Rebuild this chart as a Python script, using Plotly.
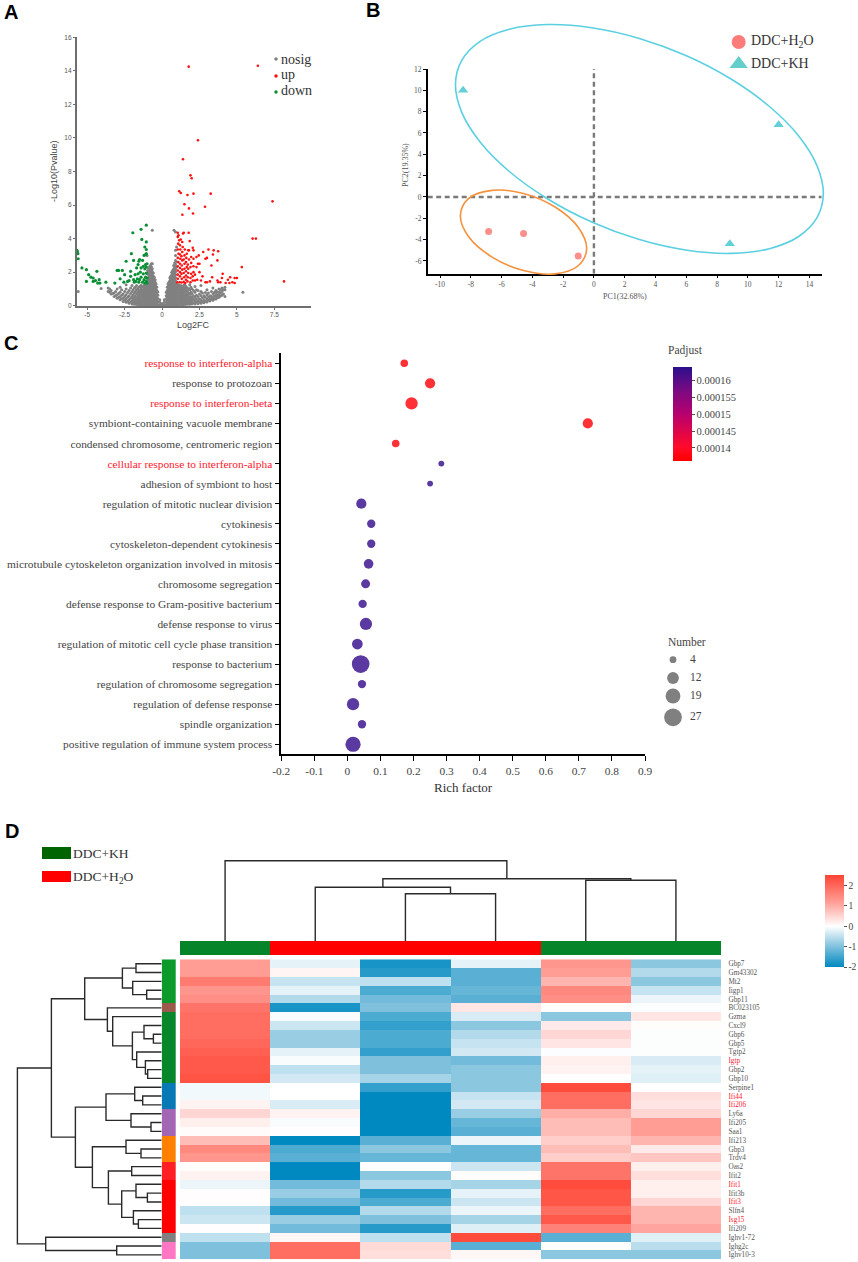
import plotly.graph_objects as go

W, H = 858, 1262
SERIF = 'Liberation Serif'
SANS = 'Liberation Sans'

# ---- panel A: volcano plot ----
NOSIG_COLUMNS = [
    (0.05, [.05, .12]), (0.15, [.05, .2, .35]), (0.28, [.05, .2, .4, .6, .8]),
    (0.35, [.12, .32, .5, .7, .9, 1.1]),
    (0.4, [.05, .23, .41, .59, .77, .95, 1.13, 1.3]),
    (0.46, [.14, .32, .5, .68, .86, 1.04, 1.22, 1.4]),
    (0.52, [.05, .23, .41, .59, .77, .95, 1.13, 1.31, 1.49, 1.67]),
    (0.58, [.14, .32, .5, .68, .86, 1.04, 1.22, 1.4, 1.58, 1.76]),
    (0.65, [.05, .23, .41, .59, .77, .95, 1.13, 1.31, 1.49, 1.67, 1.85, 2.0]),
    (0.71, [.14, .32, .5, .68, .86, 1.04, 1.22, 1.4, 1.58, 1.76, 1.94, 2.1]),
    (0.78, [.04, .22, .4, .58, .76, .94, 1.12, 1.3, 1.48, 1.66, 1.84, 2.02, 2.2, 2.4]),
    (0.84, [.13, .31, .49, .67, .85, 1.03, 1.21, 1.39, 1.57, 1.75, 1.93, 2.11, 2.3, 2.55]),
    (0.9, [.04, .22, .4, .58, .76, .94, 1.12, 1.3, 1.48, 1.66, 1.84, 2.02, 2.2, 2.45, 2.7, 3.0, 3.3]),
    (0.97, [.1, .3, .5, .7, .9, 1.1, 1.28, 2.3, 2.6, 3.5]),
    (1.0, [.02, .16, .4, .6, .8, 1.0, 1.2]),
    (1.1, [.05, .22, .4, .58, .76, .94, 1.1, 1.25]),
    (1.17, [.13, .3, .48, .66, .84, 1.02, 1.18]),
    (1.25, [.05, .2, .38, .55, .72, .9, 1.05, 1.2]),
    (1.32, [.12, .3, .46, .64, .8, .98, 1.12]),
    (1.4, [.06, .22, .4, .58, .75, .95, 1.15]),
    (1.47, [.14, .3, .48, .66, .85, 1.05, 1.25]),
    (1.55, [.07, .25, .42, .6, .8, 1.0, 1.2]),
    (1.62, [.15, .33, .52, .7, .92, 1.12]),
    (1.7, [.08, .25, .45, .62, .85, 1.05]),
    (1.78, [.16, .34, .54, .75, 1.0]),
    (1.85, [.08, .25, .42, .68, .95, 1.25]),
    (1.93, [.17, .35, .55, .8, 1.1]),
    (2.0, [.1, .28, .48, .72, 1.0]),
    (2.1, [.18, .38, .6, .9]),
    (2.2, [.1, .3, .5, .8, 1.15]),
    (2.3, [.2, .4, .62, .95]),
    (2.4, [.12, .3, .55, .9]),
    (2.5, [.22, .42, .7]),
    (2.6, [.15, .32, .6, .85, 1.2]),
    (2.7, [.25, .47, .75]),
    (2.8, [.18, .35, .6]),
    (2.9, [.27, .5, .78]),
    (3.0, [.22, .4, .65, .95]),
    (3.1, [.32, .52, .75]),
    (3.2, [.28, .42, .6]),
    (3.3, [.38, .55, .85]),
    (3.4, [.33, .48, .7, 1.05]),
    (3.5, [.42, .6, .8]),
    (3.6, [.4, .55, .72, .9]),
    (3.7, [.47, .63, .82]),
    (3.8, [.5, .65, .8, 1.0]),
    (3.9, [.58, .75, .95]),
    (4.0, [.62, .85, 1.05]),
    (4.1, [.7, .95]),
    (4.2, [.55, .95, 1.1]),
    (5.4, [.8]), (0.8, [4.5]), (0.9, [4.4]),
    (-0.05, [.05, .12]), (-0.15, [.05, .2, .35]), (-0.28, [.05, .22, .42, .62, .82]),
    (-0.35, [.12, .32, .5, .7, .9, 1.1]),
    (-0.4, [.05, .23, .41, .59, .77, .95, 1.13, 1.3]),
    (-0.46, [.14, .32, .5, .68, .86, 1.04, 1.22, 1.4, 1.55]),
    (-0.52, [.05, .23, .41, .59, .77, .95, 1.13, 1.31, 1.49, 1.7]),
    (-0.58, [.14, .32, .5, .68, .86, 1.04, 1.22, 1.4, 1.58, 1.76, 1.95]),
    (-0.65, [.04, .22, .4, .58, .76, .94, 1.12, 1.3, 1.48, 1.66, 1.84, 2.02, 2.2, 2.5, 4.5]),
    (-0.71, [.13, .31, .49, .67, .85, 1.03, 1.21, 1.39, 1.57, 1.75, 1.93, 2.11, 2.3, 2.5]),
    (-0.78, [.04, .22, .4, .58, .76, .94, 1.12, 1.3, 1.48, 1.66, 1.84, 2.02, 2.2, 2.4]),
    (-0.84, [.13, .31, .49, .67, .85, 1.03, 1.21, 1.39, 1.57, 1.75, 1.93, 2.11, 2.3]),
    (-0.9, [.04, .22, .4, .58, .76, .94, 1.12, 1.3, 1.48, 1.66, 1.84, 2.02, 2.25]),
    (-0.96, [.12, .3, .48, .66, .84, 1.02, 1.2, 1.4, 1.6, 2.1]),
    (-1.0, [.03, .2, .38, .56, .74, .92, 1.1, 1.28, 1.9, 3.0]),
    (-1.06, [.13, .31, .49, .67, .85, 1.03, 1.2]),
    (-1.12, [.04, .22, .4, .58, .76, .94, 1.12, 1.28]),
    (-1.18, [.13, .31, .49, .67, .85, 1.03, 1.22]),
    (-1.25, [.04, .22, .4, .58, .76, .94, 1.15]),
    (-1.32, [.14, .32, .5, .7, .9, 1.1]),
    (-1.4, [.05, .24, .42, .6, .8, 1.0, 1.22]),
    (-1.47, [.15, .35, .55, .72, .92, 1.15]),
    (-1.55, [.05, .25, .45, .65, .85, 1.1]),
    (-1.62, [.15, .35, .55, .78, 1.0]),
    (-1.7, [.07, .25, .45, .7, .95, 1.2]),
    (-1.78, [.17, .37, .58, .85, 1.1]),
    (-1.85, [.08, .28, .5, .75, 1.05]),
    (-1.93, [.2, .4, .65, .95]),
    (-2.0, [.1, .3, .55, .85, 1.2]),
    (-2.1, [.22, .45, .72, 1.05]),
    (-2.2, [.15, .35, .6, .9]),
    (-2.3, [.27, .5, .78]),
    (-2.4, [.2, .4, .65, 1.0, 1.25]),
    (-2.5, [.32, .55, .85]),
    (-2.6, [.25, .45, .7]),
    (-2.7, [.42, .62, .95]),
    (-2.8, [.35, .55, .8, 1.1]),
    (-2.9, [.5, .72]),
    (-3.0, [.45, .65, 1.0]),
    (-3.1, [.6, .85]),
    (-3.2, [.55, .75]),
    (-3.3, [.72]),
    (-3.4, [.7, .9]),
    (-3.5, [.8, 1.0]),
    (-3.6, [.85, 1.05]),
    (-4.07, [1.03]), (-5.6, [.85]),
]
UP_X = [1.02, 1.05, 1.05, 1.05, 1.05, 1.08, 1.05, 1.1, 1.05, 1.08, 1.05, 1.05, 1.1, 1.15, 1.18, 1.2, 1.2, 1.2, 1.2, 1.22,
        1.2, 1.22, 1.2, 1.25, 1.3, 1.32, 1.3, 1.35, 1.32, 1.35, 1.3, 1.35, 1.38, 1.35, 1.4, 1.45, 1.45, 1.48, 1.45, 1.5,
        1.5, 1.45, 1.5, 1.52, 1.55, 1.6, 1.6, 1.6, 1.65, 1.6, 1.62, 1.65, 1.7, 1.72, 1.75, 1.75, 1.72, 1.8, 1.75, 1.8,
        1.78, 1.85, 1.9, 1.9, 1.95, 1.9, 1.95, 1.95, 2.05, 2.05, 2.1, 2.1, 2.1, 2.1, 2.05, 2.2, 2.2, 2.3, 2.3, 2.35,
        2.4, 2.5, 2.5, 2.45, 2.6, 2.7, 2.75, 2.9, 2.9, 3.0, 3.1, 3.2, 3.3, 3.35, 3.4, 3.45, 3.0, 3.75, 3.7, 3.7,
        3.75, 4.0, 4.05, 4.25, 4.4, 4.5, 4.55, 4.7, 4.85, 4.85, 5.0, 3.9,
        1.78, 6.4, 2.4, 1.4, 1.9, 1.98, 1.15, 1.25, 1.7, 2.1, 3.25, 1.5, 7.38, 2.87, 1.8, 1.36, 2.07, 6.05, 6.27, 8.15, 5.33]
UP_Y = [1.4, 1.6, 1.85, 2.1, 2.35, 2.6, 2.85, 3.1, 3.35, 3.7, 4.1, 4.35, 4.2, 3.9, 1.4, 1.75, 2.0, 2.25, 2.5, 2.8,
        3.05, 3.35, 3.6, 3.95, 1.38, 1.6, 1.9, 2.15, 2.4, 2.7, 2.95, 3.2, 3.5, 3.8, 4.3, 4.35, 1.42, 1.7, 1.95, 2.2,
        2.5, 2.75, 3.0, 3.35, 1.35, 1.55, 1.8, 2.05, 2.3, 2.6, 2.85, 3.1, 1.45, 1.7, 1.95, 2.2, 2.45, 2.75, 3.3, 3.3,
        4.35, 3.85, 1.4, 1.65, 1.9, 2.3, 2.55, 2.9, 1.5, 1.75, 2.0, 2.35, 2.8, 3.3, 3.45, 1.5, 1.85, 2.3, 2.9, 1.55,
        2.5, 2.0, 2.5, 3.0, 1.5, 1.75, 3.2, 1.4, 2.8, 1.4, 3.35, 1.45, 2.4, 1.7, 3.05, 3.3, 2.85, 3.25, 2.7, 1.5,
        1.4, 1.65, 1.9, 1.35, 1.55, 1.35, 1.7, 1.4, 1.65, 1.35, 1.65, 1.4,
        14.25, 14.3, 9.86, 8.73, 7.77, 7.6, 6.82, 6.72, 6.6, 6.68, 6.68, 6.05, 6.22, 5.9, 5.8, 5.42, 5.5, 4.0, 4.0, 1.45, 2.3]
DOWN_X = [-5.68, -5.65, -5.62, -5.6, -5.35, -5.05, -5.05, -4.9, -4.75, -4.6, -4.6, -4.45, -4.35, -4.3, -4.2, -4.15,
          -3.75, -3.15, -3.0, -2.9, -2.8, -2.65, -2.55, -2.5, -2.4, -2.3, -2.2, -2.1, -2.1, -2.05, -1.95, -1.9, -1.9,
          -1.85, -1.8, -1.75, -1.7, -1.65, -1.6, -1.6, -1.55, -1.55, -1.5, -1.5, -1.45, -1.4, -1.4, -1.4, -1.35, -1.3,
          -1.3, -1.25, -1.25, -1.2, -1.2, -1.15, -1.15, -1.15, -1.1, -1.1, -1.1, -1.05, -1.05, -1.05, -1.05, -1.05,
          -1.05, -1.05, -1.0, -1.0, -1.0]
DOWN_Y = [3.3, 3.2, 3.1, 2.8, 2.25, 2.15, 1.45, 1.85, 1.7, 1.45, 1.65, 1.5, 2.05, 1.35, 1.55, 1.35,
          1.4, 1.35, 2.1, 2.1, 1.6, 2.1, 1.4, 1.85, 2.65, 1.45, 1.5, 1.75, 2.05, 3.1, 4.35, 1.55, 2.7,
          1.4, 1.85, 1.45, 2.25, 1.6, 1.9, 2.45, 1.4, 2.65, 2.75, 1.55, 2.0, 1.7, 2.25, 4.55, 3.95, 1.4,
          2.7, 1.9, 2.35, 1.55, 3.0, 1.35, 2.2, 3.5, 1.7, 2.45, 3.05, 1.45, 1.95, 3.1, 2.3, 3.8,
          3.35, 4.8, 1.35, 1.65, 2.5]
VOLCANO_XTICKS = [-5, -2.5, 0, 2.5, 5, 7.5, 10]
VOLCANO_YTICKS = [0, 2, 4, 6, 8, 10, 12, 14, 16]

# ---- panel B: PCA ----
H2O_PC1 = [-6.84, -4.57, -1.02]
H2O_PC2 = [-3.25, -3.44, -5.53]
KH_PC1 = [-8.5, 12.0, 8.83]
KH_PC2 = [10.0, 6.78, -4.38]
KH_RING_X = [14.89, 14.48, 13.29, 11.39, 8.92, 6.04, 2.94, -0.15, -3.03, -5.5, -7.4, -8.59, -9.0, -8.59, -7.4, -5.5,
             -3.03, -0.15, 2.94, 6.04, 8.92, 11.39, 13.29, 14.48, 14.89]
KH_RING_Y = [0.29, -1.97, -3.73, -4.87, -5.31, -5.02, -4.02, -2.37, -0.19, 2.36, 5.13, 7.9, 10.53, 12.78, 14.56, 15.69,
             16.13, 15.83, 14.83, 13.18, 11.0, 8.45, 5.69, 2.9, 0.29]
H2O_RING_X = [-0.48, -1.03, -2.53, -4.58, -6.62, -8.14, -8.68, -8.14, -6.62, -4.58, -2.53, -1.03, -0.48]
H2O_RING_Y = [-4.87, -6.47, -7.23, -6.92, -5.66, -3.76, -1.75, -0.16, 0.59, 0.3, -0.97, -2.87, -4.87]

# ---- panel C: GO enrichment ----
TERMS = ['response to interferon-alpha', 'response to protozoan', 'response to interferon-beta',
         'symbiont-containing vacuole membrane', 'condensed chromosome, centromeric region',
         'cellular response to interferon-alpha', 'adhesion of symbiont to host',
         'regulation of mitotic nuclear division', 'cytokinesis', 'cytoskeleton-dependent cytokinesis',
         'microtubule cytoskeleton organization involved in mitosis', 'chromosome segregation',
         'defense response to Gram-positive bacterium', 'defense response to virus',
         'regulation of mitotic cell cycle phase transition', 'response to bacterium',
         'regulation of chromosome segregation', 'regulation of defense response', 'spindle organization',
         'positive regulation of immune system process']
RED_TERMS = ['response to interferon-alpha', 'response to interferon-beta', 'cellular response to interferon-alpha']
RICH = [.172, .25, .194, .727, .146, .284, .25, .042, .072, .072, .064, .055, .046, .056, .03, .04, .044, .017, .044, .017]
COUNTS = [5, 9, 13, 9, 5, 3, 3, 9, 6, 6, 8, 7, 6, 13, 10, 27, 6, 13, 6, 20]
PADJ = [.000137, .000137, .000137, .000137, .000137, .000163, .000163, .000163, .000163, .000163,
        .000163, .000163, .000163, .000163, .000163, .000163, .000163, .000163, .000163, .000163]
RICH_TICKS = [-.2, -.1, 0, .1, .2, .3, .4, .5, .6, .7, .8, .9]
PADJ_TICKS = [.00014, .000145, .00015, .000155, .00016]
PADJ_LABELS = ['0.00014', '0.000145', '0.00015', '0.000155', '0.00016']
SIZE_LEVELS = [4, 12, 19, 27]

# ---- panel D: heatmap ----
GENES = ['Gbp7', 'Gm43302', 'Mt2', 'Iigp1', 'Gbp11', 'BC023105', 'Gzma', 'Cxcl9', 'Gbp6', 'Gbp5', 'Tgtp2', 'Igtp',
         'Gbp2', 'Gbp10', 'Serpine1', 'Ifi44', 'Ifi206', 'Ly6a', 'Ifi205', 'Saa1', 'Ifi213', 'Gbp3', 'Trdv4', 'Oas2',
         'Ifit2', 'Ifit1', 'Ifit3b', 'Ifit3', 'Slfn4', 'Isg15', 'Ifi209', 'Ighv1-72', 'Ighg2c', 'Ighv10-3']
RED_GENES = ['Igtp', 'Ifi44', 'Ifi206', 'Ifit1', 'Ifit3', 'Isg15']
COL0 = [1.2, 1.2, 1.7, 1.3, 1.4, 1.8, 1.9, 1.9, 1.9, 2.0, 2.1, 2.2, 2.2, 2.3, -.1, -.1, .15, .5, .2, .05, .8, 1.5, 1.3,
        .03, .15, -.15, .02, .02, -.5, -.4, .02, -.5, -1.0, -1.0]
COL1 = [-.2, .12, -.45, -.2, -.6, -1.8, -.05, -.4, -.8, -.8, -.2, -.05, -.5, -.35, 0, 0, -.3, .15, -.05, .02, -2.0, -1.4,
        -1.3, -2.0, -2.0, -1.1, -.8, -1.1, -1.7, -.8, -1.1, .1, 1.9, 1.9]
COL2 = [-1.8, -1.7, -.5, -1.4, -1.1, -1.0, -1.4, -1.6, -1.4, -1.4, -1.6, -1.0, -1.0, -.7, -1.6, -2.0, -2.0, -2.0, -2.0,
        -2.0, -1.3, -.9, -1.2, 0, -.9, -.6, -1.7, -1.4, -.6, -1.0, -1.7, -.5, .45, .4]
COL3 = [-.2, -1.3, -1.3, -1.2, -1.3, .3, -.3, -.9, -.6, -.45, -.35, -1.1, -.9, -.9, -.9, -.45, -.35, -.8, -1.2, -1.3,
        -.15, -1.2, -1.2, -.4, .03, -.7, -.2, -.4, -.15, -.7, -.25, 2.4, -1.3, .1]
COL4 = [1.3, 1.2, .9, 1.5, 1.4, .03, -.9, .25, .5, .3, -.03, .2, .15, 0, 2.4, 1.9, 1.9, 1.0, .8, .8, .6, .8, .6, 1.8, 1.8,
        2.4, 2.25, 2.25, 1.9, 2.2, 1.6, -1.3, 0, -.9]
COL5 = [-.9, -.6, -.9, -.45, -.15, -.02, .3, .03, -.02, -.02, -.02, -.3, -.2, -.25, 0, .4, .3, .5, 1.2, 1.2, .9, .25, .7,
        .2, .4, .2, .2, .5, .9, .9, 1.1, -.25, -.55, -.9]
HEAT_TICKS = [-2, -1, 0, 1, 2]
GROUP_BAR = [0, 1, 1, 1, 0, 0]
ROW_CLUSTER = [0, 0, 0, 0, 0, 1, 2, 2, 2, 2, 2, 2, 2, 2, 3, 3, 3, 4, 4, 4, 5, 5, 5, 6, 6, 7, 7, 7, 7, 7, 7, 8, 9, 9]
CLUSTER_COLORS = ['#0b9a2b', '#9b5a4b', '#07862c', '#0779b5', '#a366b5', '#ff7f00', '#ff1f24', '#ff0000', '#808080',
                  '#ff77c4']
# (height, child, child); a bare int is a leaf
COL_TREE = (80.3, 0, (62.3, (53.7, 1, (47.3, 2, 3)), (60.7, 4, 5)))
ROW_TREE = (144.3,
            (110.3,
             (77, (39.3, (25.7, 0, 1), (29, 2, (15, 3, 4))),
              (54.3, 5, (49, 6, (29.3, (17.7, 7, (8.3, 8, 9)), (25, 10, (16.3, 11, (14, 12, 13))))))),
             (86.3,
              (55.7, (27, 14, (19, 15, 16)), (30.7, 17, (10.7, 18, 19))),
              (69.3,
               (35.7, 20, (20.7, 21, 22)),
               (53.3, (30, 23, 24), (40, (25.7, 25, (14.3, 26, 27)), (28.3, 28, (23.3, 29, 30))))))),
            (116, 31, (45, 32, 33)))


def xdom(left, right):
    return [left / W, right / W]


def ydom(top, bottom):
    return [1 - bottom / H, 1 - top / H]


def tree_lines(node, xs, ys):
    """Walk a dendrogram and collect its elbows, returns (position, height)"""
    if isinstance(node, int):
        return node, 0
    height, a, b = node
    pos_a, h_a = tree_lines(a, xs, ys)
    pos_b, h_b = tree_lines(b, xs, ys)
    xs += [pos_a, pos_a, pos_b, pos_b, None]
    ys += [h_a, height, height, h_b, None]
    return (pos_a + pos_b) / 2, height


def coloured(label, is_red, base):
    color = '#ff1a2e' if is_red else base
    return f'<span style="color:{color}">{label}</span>'


fig = go.Figure()

# volcano
nosig_x = [x for x, ys in NOSIG_COLUMNS for _ in ys]
nosig_y = [y for _, ys in NOSIG_COLUMNS for y in ys]
for xs, ys, color, size in [(nosig_x, nosig_y, '#808080', 3), (UP_X, UP_Y, '#ff1010', 2.6), (DOWN_X, DOWN_Y, '#0a8f35', 3.2)]:
    fig.add_trace(go.Scatter(x=xs, y=ys, mode='markers', xaxis='x', yaxis='y', cliponaxis=False,
                             marker=dict(size=size, color=color, line_width=0)))

# PCA, rings sit on a wider invisible axis pair because they leave the plot box
fig.add_trace(go.Scatter(x=[0, 0], y=[-7.2, 12], mode='lines', xaxis='x2', yaxis='y2',
                         line=dict(color='#7a7a7a', width=2.4, dash='5px,3.5px')))
fig.add_trace(go.Scatter(x=[-10.8, 14.8], y=[0, 0], mode='lines', xaxis='x2', yaxis='y2',
                         line=dict(color='#7a7a7a', width=2.4, dash='5px,3.5px')))
fig.add_trace(go.Scatter(x=H2O_PC1, y=H2O_PC2, mode='markers', xaxis='x2', yaxis='y2', cliponaxis=False,
                         marker=dict(size=7, color='#f9908c', line_width=0)))
fig.add_trace(go.Scatter(x=KH_PC1, y=KH_PC2, mode='markers', xaxis='x2', yaxis='y2', cliponaxis=False,
                         marker=dict(size=9, symbol='triangle-up', color='#63cfd6', line_width=0)))
fig.add_trace(go.Scatter(x=KH_RING_X, y=KH_RING_Y, mode='lines', xaxis='x3', yaxis='y3',
                         line=dict(color='#5bd0e2', width=1.6, shape='spline', smoothing=1)))
fig.add_trace(go.Scatter(x=H2O_RING_X, y=H2O_RING_Y, mode='lines', xaxis='x3', yaxis='y3',
                         line=dict(color='#f5923e', width=1.6, shape='spline', smoothing=1)))

# GO bubbles
PADJ_SCALE = [[0, '#ff0000'], [.15, '#ff0a2a'], [.5, '#b8006f'], [.75, '#7a0a82'], [1, '#2b0f8c']]
SIZEREF = 0.173
fig.add_trace(go.Scatter(
    x=RICH, y=list(range(len(TERMS))), mode='markers', xaxis='x4', yaxis='y4', cliponaxis=False,
    marker=dict(size=COUNTS, sizemode='area', sizeref=SIZEREF, color=PADJ, cmin=.000136, cmax=.000164,
                colorscale=PADJ_SCALE, opacity=.82, line_width=0,
                colorbar=dict(x=673 / W, xanchor='left', y=1 - 367.3 / H, yanchor='top', thickness=18.6,
                              thicknessmode='pixels', len=94.4, lenmode='pixels', xpad=0, ypad=0, outlinewidth=0,
                              tickvals=PADJ_TICKS, ticktext=PADJ_LABELS, ticks='outside', ticklen=3, tickwidth=1,
                              tickcolor='#555555', tickfont=dict(family=SERIF, size=10.5, color='#444444')))))

# heatmap and its side bars
z_rows = [list(row) for row in zip(COL0, COL1, COL2, COL3, COL4, COL5)]
HEAT_SCALE = [[0, '#0089c0'], [.2212, '#7fc1dd'], [.4425, '#ffffff'], [.7, '#ff9f98'], [1, '#ff4433']]
fig.add_trace(go.Heatmap(
    z=z_rows, x=list(range(6)), y=list(range(len(GENES))), xaxis='x5', yaxis='y5', zmin=-2, zmax=2.52,
    colorscale=HEAT_SCALE,
    colorbar=dict(x=824.7 / W, xanchor='left', y=1 - 875 / H, yanchor='top', thickness=18.6, thicknessmode='pixels',
                  len=92, lenmode='pixels', xpad=0, ypad=0, outlinewidth=0, tickvals=HEAT_TICKS,
                  ticktext=[str(t) for t in HEAT_TICKS], ticks='outside',
                  ticklen=3, tickcolor='#555555', tickfont=dict(family=SERIF, size=9.5, color='#444444'))))
fig.add_trace(go.Heatmap(z=[GROUP_BAR], x=list(range(6)), y=[0], xaxis='x6', yaxis='y6', showscale=False, zmin=0, zmax=1,
                         colorscale=[[0, '#05842a'], [1, '#ff0000']]))
n_clusters = len(CLUSTER_COLORS)
cluster_scale = []
for i, c in enumerate(CLUSTER_COLORS):
    cluster_scale += [[i / n_clusters, c], [(i + 1) / n_clusters, c]]
fig.add_trace(go.Heatmap(z=[[c] for c in ROW_CLUSTER], x=[0], y=list(range(len(GENES))), xaxis='x7', yaxis='y7',
                         showscale=False, zmin=-.5, zmax=n_clusters - .5, colorscale=cluster_scale))

# dendrograms
col_xs, col_hs = [], []
tree_lines(COL_TREE, col_xs, col_hs)
fig.add_trace(go.Scatter(x=col_xs, y=col_hs, mode='lines', xaxis='x8', yaxis='y8',
                         line=dict(color='#2a2a2a', width=1.4)))
row_ys, row_hs = [], []
tree_lines(ROW_TREE, row_ys, row_hs)
fig.add_trace(go.Scatter(x=row_hs, y=row_ys, mode='lines', xaxis='x9', yaxis='y9',
                         line=dict(color='#2a2a2a', width=1.4)))

# hand-placed legends, plotly's own legend cannot sit this tight
legend_marks = [
    (276, 59, 3.5, '#808080', 'circle'), (276, 76, 3.5, '#ff1010', 'circle'), (276, 92, 3.5, '#0a8f35', 'circle'),
    (738.7, 42, 14, '#fb7c78', 'circle'), (738.7, 64, 16, '#62cfcb', 'triangle-up'),
]
for px, py, size, color, symbol in legend_marks:
    fig.add_trace(go.Scatter(x=[px], y=[py], mode='markers', xaxis='x10', yaxis='y10',
                             marker=dict(size=size, color=color, symbol=symbol, line_width=0)))
fig.add_trace(go.Scatter(x=[673, 673, 673, 673], y=[659.7, 678, 696, 717.3], mode='markers', xaxis='x10', yaxis='y10',
                         marker=dict(size=SIZE_LEVELS, sizemode='area', sizeref=SIZEREF, color='#808080', opacity=1,
                                     line_width=0)))


def label(x, y, text, size=12, color='#444444', family=SERIF, xanchor='left', angle=0):
    return dict(x=x / W, y=1 - y / H, xref='paper', yref='paper', text=text, showarrow=False, xanchor=xanchor,
                yanchor='middle', textangle=angle, font=dict(family=family, size=size, color=color))


annotations = [
    label(2, 12, '<b>A</b>', 20, '#000000', SANS), label(364, 10, '<b>B</b>', 20, '#000000', SANS),
    label(2, 343, '<b>C</b>', 20, '#000000', SANS), label(3, 831, '<b>D</b>', 20, '#000000', SANS),
    label(279, 59, 'nosig', 14, '#333333'), label(279, 75, 'up', 14, '#333333'), label(279, 91, 'down', 14, '#333333'),
    label(193.5, 325, 'Log2FC', 9, '#444444', SANS, 'center'),
    label(54, 171, '-Log10(Pvalue)', 9, '#444444', SANS, 'center', -90),
    label(748.7, 42, 'DDC+H<sub>2</sub>O', 14, '#333333'), label(748.7, 63, 'DDC+KH', 14, '#333333'),
    label(624.5, 296, 'PC1(32.68%)', 8, '#555555', SERIF, 'center'),
    label(405, 165, 'PC2(19.35%)', 8, '#555555', SERIF, 'center', -90),
    label(463.5, 787, 'Rich factor', 13, '#333333', SERIF, 'center'),
    label(666, 350, 'Padjust', 11.5), label(666, 642, 'Number', 11.5),
    label(688, 659, '4', 11.5), label(688, 677, '12', 11.5), label(688, 695, '19', 11.5), label(688, 716, '27', 11.5),
    label(71, 853.5, 'DDC+KH', 13.5, '#333333'), label(71, 877, 'DDC+H<sub>2</sub>O', 13.5, '#333333'),
]
shapes = [
    dict(type='rect', xref='paper', yref='paper', x0=42 / W, x1=71 / W, y0=1 - 859 / H, y1=1 - 847 / H,
         fillcolor='#006400', line_width=0),
    dict(type='rect', xref='paper', yref='paper', x0=42 / W, x1=71 / W, y0=1 - 882 / H, y1=1 - 871 / H,
         fillcolor='#ff0000', line_width=0),
]

hidden = dict(visible=False, showgrid=False, zeroline=False)
a_axis = dict(showline=True, linecolor='#6e6e6e', linewidth=1.6, ticks='outside', ticklen=2, tickwidth=1,
              tickcolor='#6e6e6e', showgrid=False, zeroline=False,
              tickfont=dict(family=SANS, size=6.5, color='#555555'))
b_axis = dict(showline=True, linecolor='#000000', linewidth=1.5, ticks='outside', ticklen=3, tickwidth=1,
              tickcolor='#000000', showgrid=False, zeroline=False,
              tickfont=dict(family=SERIF, size=7.5, color='#555555'))
c_axis = dict(showline=True, linecolor='#000000', linewidth=1.6, ticks='outside', ticklen=5, tickwidth=1.4,
              tickcolor='#000000', showgrid=False, zeroline=False,
              tickfont=dict(family=SERIF, size=11.4, color='#444444'))
B_XTICKS = list(range(-10, 15, 2))
B_YTICKS = list(range(-6, 13, 2))

fig.update_layout(
    width=W, height=H, margin=dict(l=0, r=0, t=0, b=0, autoexpand=False), paper_bgcolor='white',
    plot_bgcolor='rgba(0,0,0,0)',
    showlegend=False, annotations=annotations, shapes=shapes,
    # A
    xaxis=dict(a_axis, domain=xdom(76.7, 311.3), range=[-5.7, 9.97], anchor='y', tickvals=VOLCANO_XTICKS,
               ticktext=[str(t) for t in VOLCANO_XTICKS]),
    yaxis=dict(a_axis, domain=ydom(37.3, 305.7), range=[0, 16], anchor='x', tickvals=VOLCANO_YTICKS),
    # B
    xaxis2=dict(b_axis, domain=xdom(427.7, 821.7), range=[-10.8, 14.8], anchor='y2', tickvals=B_XTICKS,
                ticktext=[str(t) for t in B_XTICKS]),
    yaxis2=dict(b_axis, domain=ydom(69, 273.7), range=[-7.2, 12], anchor='x2', tickvals=B_YTICKS,
                ticktext=[str(t) for t in B_YTICKS]),
    xaxis3=dict(hidden, domain=xdom(380, 858), range=[-13.9, 17.14], anchor='y3'),
    yaxis3=dict(hidden, domain=ydom(0, 300), range=[-9.68, 18.43], anchor='x3'),
    # C
    xaxis4=dict(c_axis, domain=xdom(281.3, 645), range=[-.2, .9], anchor='y4', tickvals=RICH_TICKS,
                ticktext=[f'{t:g}' for t in RICH_TICKS]),
    yaxis4=dict(c_axis, domain=ydom(353.3, 754.3), range=[19.5, -.5], anchor='x4', tickvals=list(range(len(TERMS))),
                ticktext=[coloured(t, t in RED_TERMS, '#444444') for t in TERMS]),
    # D
    xaxis5=dict(hidden, domain=xdom(180, 721), range=[-.5, 5.5], anchor='y5'),
    yaxis5=dict(domain=ydom(959.3, 1259.3), range=[33.5, -.5], anchor='x5', side='right', showgrid=False,
                zeroline=False, showline=False, ticks='outside', ticklen=5, tickcolor='rgba(0,0,0,0)',
                tickvals=list(range(len(GENES))), ticktext=[coloured(g, g in RED_GENES, '#555555') for g in GENES],
                tickfont=dict(family=SERIF, size=7.2, color='#555555')),
    xaxis6=dict(hidden, domain=xdom(180, 721), range=[-.5, 5.5], anchor='y6'),
    yaxis6=dict(hidden, domain=ydom(941, 955.3), anchor='x6'),
    xaxis7=dict(hidden, domain=xdom(161.7, 176), anchor='y7'),
    yaxis7=dict(hidden, domain=ydom(959.3, 1259.3), range=[33.5, -.5], anchor='x7'),
    xaxis8=dict(hidden, domain=xdom(180, 721), range=[-.5, 5.5], anchor='y8'),
    yaxis8=dict(hidden, domain=ydom(856, 941), range=[0, 85], anchor='x8'),
    xaxis9=dict(hidden, domain=xdom(0, 161.7), range=[161.7, 0], anchor='y9'),
    yaxis9=dict(hidden, domain=ydom(959.3, 1259.3), range=[33.5, -.5], anchor='x9'),
    # whole page, for the hand-placed legend marks
    xaxis10=dict(hidden, domain=[0, 1], range=[0, W], anchor='y10'),
    yaxis10=dict(hidden, domain=[0, 1], range=[H, 0], anchor='x10'),
)

fig.write_html("out.html", config={'displayModeBar': False}, post_script="document.body.style.margin='0';")
